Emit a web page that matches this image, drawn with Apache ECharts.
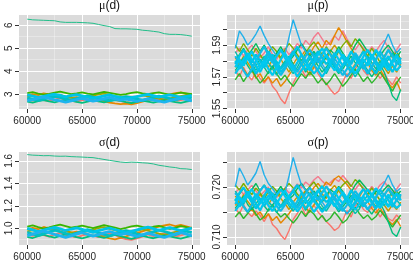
<!DOCTYPE html>
<html><head><meta charset="utf-8">
<script src="https://cdn.jsdelivr.net/npm/echarts@6/dist/echarts.min.js"></script>
<style>html,body{margin:0;padding:0;background:#fff}#c{width:413px;height:267px}</style>
</head><body><div id="c"></div>
<script>
// ---------- axes / ticks ----------
const iterD = [60000,60500,61000,61500,62000,62500,63000,63500,64000,64500,65000,65500,66000,66500,67000,67500,68000,68500,69000,69500,70000,70500,71000,71500,72000,72500,73000,73500,74000,74500,75000];
const iterP = [60000,60375,60750,61125,61500,61875,62250,62625,63000,63375,63750,64125,64500,64875,65250,65625,66000,66375,66750,67125,67500,67875,68250,68625,69000,69375,69750,70125,70500,70875,71250,71625,72000,72375,72750,73125,73500,73875,74250,74625,75000];
const xTicks = [60000,65000,70000,75000];
const xMinor = [62500,67500,72500];
const muDTicks = [3,4,5,6];
const muDMinor = [2.5,3.5,4.5,5.5];
const muPTicks = [1.55,1.56,1.57,1.58,1.59,1.60];
const muPLabels = [1.55,1.57,1.59];
const muPMinor = [1.555,1.565,1.575,1.585,1.595,1.605];
const sdTicks = [1.0,1.2,1.4,1.6];
const sdMinor = [0.9,1.1,1.3,1.5];
const spTicks = [0.710,0.715,0.720,0.725];
const spLabels = [0.710,0.720];
const spMinor = [0.7125,0.7175,0.7225];

// ---------- μ(d) ----------
const muDOutlier = [6.26,6.23,6.22,6.21,6.20,6.19,6.14,6.12,6.12,6.12,6.11,6.10,6.08,6.03,5.98,5.94,5.85,5.84,5.84,5.83,5.82,5.78,5.76,5.73,5.70,5.63,5.60,5.60,5.59,5.56,5.52];
const muDChains = [
 [2.78,2.72,2.80,2.75,2.70,2.77,2.83,2.76,2.71,2.68,2.74,2.79,2.73,2.69,2.75,2.81,2.76,2.70,2.66,2.63,2.68,2.74,2.79,2.73,2.77,2.82,2.76,2.71,2.75,2.80,2.74],
 [2.95,3.01,2.96,3.04,2.99,2.93,2.97,2.90,2.84,2.88,2.82,2.77,2.72,2.76,2.70,2.64,2.60,2.57,2.59,2.56,2.62,2.68,2.74,2.81,2.87,2.93,2.99,3.05,3.08,3.03,2.98],
 [2.88,2.93,2.87,2.82,2.86,2.91,2.96,2.90,2.85,2.80,2.84,2.89,2.94,2.99,3.03,2.97,2.92,2.86,2.81,2.85,2.90,2.95,2.91,2.86,2.81,2.77,2.82,2.87,2.92,2.97,3.02],
 [3.05,3.09,3.03,2.98,3.02,3.07,3.11,3.06,3.01,3.04,3.08,3.03,2.99,3.05,3.10,3.06,3.02,2.97,3.01,3.06,3.09,3.04,3.00,3.05,3.08,3.03,2.98,3.02,3.07,3.04,3.00],
 [2.68,2.64,2.70,2.75,2.69,2.65,2.71,2.76,2.72,2.67,2.63,2.68,2.73,2.69,2.65,2.70,2.75,2.71,2.66,2.62,2.67,2.72,2.68,2.64,2.69,2.74,2.70,2.66,2.63,2.68,2.72],
 [2.84,2.78,2.73,2.79,2.85,2.91,2.86,2.80,2.75,2.81,2.87,2.93,2.88,2.82,2.77,2.72,2.78,2.84,2.90,2.85,2.79,2.74,2.80,2.86,2.92,2.87,2.81,2.76,2.82,2.88,2.83],
 [2.97,2.92,2.86,2.91,2.96,3.00,2.95,2.89,2.94,2.98,2.93,2.87,2.82,2.88,2.93,2.97,2.91,2.86,2.80,2.85,2.90,2.95,2.99,2.94,2.88,2.93,2.97,2.92,2.87,2.91,2.95],
 [2.72,2.77,2.83,2.88,2.82,2.76,2.71,2.66,2.71,2.77,2.82,2.76,2.70,2.75,2.81,2.86,2.80,2.75,2.79,2.74,2.69,2.74,2.80,2.75,2.70,2.66,2.72,2.78,2.83,2.77,2.71]
];

// ---------- σ(d) ----------
const sdOutlier = [1.655,1.650,1.648,1.645,1.646,1.642,1.640,1.641,1.637,1.635,1.633,1.630,1.628,1.620,1.612,1.604,1.596,1.589,1.585,1.588,1.586,1.582,1.579,1.572,1.560,1.553,1.545,1.540,1.530,1.528,1.522];
const sdChains = [
 [0.947,0.932,0.952,0.940,0.927,0.945,0.960,0.942,0.929,0.921,0.936,0.949,0.933,0.923,0.939,0.954,0.941,0.918,0.905,0.898,0.911,0.927,0.945,0.931,0.941,0.955,0.939,0.926,0.937,0.950,0.935],
 [0.990,1.005,0.992,1.012,0.998,0.983,0.994,0.976,0.961,0.971,0.956,0.943,0.930,0.940,0.925,0.910,0.902,0.915,0.929,0.944,0.958,0.973,0.988,1.002,1.015,1.027,1.034,1.020,1.031,1.018,1.005],
 [0.972,0.985,0.969,0.956,0.966,0.979,0.992,0.977,0.964,0.951,0.962,0.975,0.988,1.001,1.011,0.996,0.983,0.967,0.954,0.965,0.978,0.991,0.980,0.966,0.953,0.943,0.955,0.968,0.981,0.994,1.006],
 [1.015,1.026,1.010,0.997,1.008,1.021,1.032,1.019,1.006,1.014,1.025,1.012,1.001,1.016,1.029,1.018,1.007,0.994,1.004,1.017,1.025,1.012,1.001,1.014,1.022,1.009,0.996,1.006,1.019,1.011,1.000],
 [0.925,0.914,0.930,0.943,0.928,0.917,0.933,0.946,0.935,0.922,0.911,0.924,0.937,0.926,0.915,0.928,0.941,0.931,0.918,0.907,0.920,0.933,0.922,0.912,0.925,0.938,0.928,0.917,0.909,0.922,0.933],
 [0.965,0.950,0.937,0.952,0.968,0.983,0.970,0.955,0.942,0.957,0.973,0.988,0.975,0.960,0.947,0.934,0.949,0.965,0.980,0.967,0.952,0.939,0.954,0.970,0.985,0.972,0.957,0.944,0.959,0.975,0.962],
 [1.000,0.987,0.972,0.985,0.998,1.009,0.996,0.981,0.994,1.005,0.992,0.977,0.964,0.979,0.992,1.003,0.988,0.975,0.960,0.973,0.986,0.999,1.010,0.997,0.982,0.995,1.006,0.993,0.980,0.991,1.002],
 [0.935,0.948,0.963,0.976,0.961,0.946,0.933,0.920,0.933,0.948,0.961,0.946,0.931,0.944,0.959,0.972,0.957,0.944,0.955,0.942,0.929,0.942,0.957,0.944,0.931,0.920,0.935,0.950,0.963,0.948,0.933]
];

// ---------- μ(p) ----------
const muPChains = [
 [1.574,1.570,1.576,1.571,1.568,1.573,1.569,1.566,1.570,1.564,1.561,1.556,1.553,1.560,1.566,1.571,1.575,1.570,1.573,1.577,1.572,1.568,1.566,1.562,1.559,1.561,1.567,1.572,1.569,1.575,1.579,1.574,1.571,1.576,1.573,1.569,1.572,1.568,1.565,1.570,1.566],
 [1.585,1.588,1.583,1.587,1.590,1.586,1.582,1.585,1.589,1.584,1.581,1.586,1.588,1.584,1.587,1.591,1.588,1.593,1.590,1.595,1.598,1.594,1.590,1.592,1.596,1.593,1.599,1.594,1.590,1.587,1.591,1.588,1.585,1.589,1.586,1.590,1.593,1.588,1.584,1.587,1.591],
 [1.576,1.580,1.575,1.571,1.574,1.569,1.572,1.567,1.570,1.566,1.569,1.564,1.567,1.571,1.575,1.579,1.583,1.587,1.584,1.589,1.592,1.588,1.593,1.590,1.596,1.601,1.597,1.592,1.588,1.584,1.580,1.576,1.579,1.574,1.571,1.575,1.570,1.566,1.563,1.567,1.561],
 [1.582,1.578,1.583,1.579,1.575,1.580,1.584,1.580,1.576,1.581,1.585,1.581,1.577,1.573,1.578,1.582,1.579,1.575,1.571,1.576,1.580,1.584,1.581,1.586,1.590,1.586,1.582,1.578,1.574,1.578,1.582,1.587,1.583,1.579,1.575,1.580,1.576,1.572,1.577,1.573,1.578],
 [1.590,1.586,1.591,1.587,1.583,1.588,1.584,1.580,1.585,1.589,1.586,1.582,1.587,1.591,1.588,1.584,1.580,1.585,1.589,1.592,1.588,1.584,1.589,1.585,1.581,1.586,1.590,1.593,1.589,1.594,1.591,1.587,1.583,1.588,1.584,1.579,1.583,1.587,1.582,1.586,1.581],
 [1.568,1.572,1.567,1.571,1.575,1.570,1.566,1.569,1.573,1.577,1.572,1.568,1.571,1.567,1.564,1.568,1.572,1.569,1.573,1.570,1.566,1.569,1.565,1.568,1.572,1.568,1.564,1.567,1.571,1.575,1.571,1.567,1.570,1.566,1.569,1.573,1.569,1.565,1.561,1.566,1.570],
 [1.579,1.584,1.588,1.583,1.587,1.591,1.586,1.590,1.585,1.581,1.585,1.589,1.584,1.580,1.583,1.587,1.591,1.587,1.583,1.586,1.582,1.578,1.583,1.587,1.584,1.589,1.585,1.581,1.585,1.590,1.594,1.590,1.586,1.582,1.586,1.583,1.587,1.590,1.586,1.582,1.586],
 [1.574,1.578,1.582,1.577,1.573,1.577,1.581,1.576,1.572,1.576,1.580,1.575,1.579,1.583,1.578,1.574,1.578,1.573,1.577,1.581,1.577,1.573,1.576,1.580,1.576,1.572,1.575,1.579,1.583,1.579,1.575,1.578,1.574,1.570,1.574,1.578,1.573,1.566,1.558,1.555,1.562],
 [1.586,1.581,1.577,1.582,1.578,1.574,1.579,1.583,1.579,1.575,1.571,1.576,1.580,1.576,1.572,1.576,1.581,1.577,1.581,1.585,1.580,1.576,1.572,1.577,1.581,1.578,1.574,1.570,1.574,1.570,1.574,1.579,1.583,1.579,1.575,1.580,1.576,1.581,1.585,1.580,1.576],
 [1.588,1.599,1.595,1.590,1.593,1.597,1.602,1.596,1.591,1.587,1.583,1.587,1.584,1.595,1.606,1.598,1.590,1.586,1.582,1.578,1.582,1.578,1.574,1.578,1.582,1.578,1.574,1.570,1.573,1.577,1.581,1.577,1.573,1.577,1.581,1.586,1.591,1.597,1.590,1.585,1.588],
 [1.580,1.575,1.579,1.583,1.579,1.584,1.580,1.576,1.580,1.584,1.579,1.575,1.578,1.582,1.586,1.582,1.578,1.574,1.578,1.582,1.586,1.582,1.578,1.581,1.577,1.573,1.577,1.582,1.578,1.583,1.579,1.575,1.579,1.584,1.580,1.576,1.580,1.576,1.580,1.584,1.579],
 [1.572,1.576,1.581,1.585,1.581,1.577,1.573,1.578,1.583,1.579,1.583,1.587,1.582,1.578,1.574,1.579,1.584,1.580,1.576,1.572,1.575,1.580,1.584,1.580,1.585,1.581,1.577,1.581,1.586,1.582,1.578,1.583,1.587,1.583,1.578,1.574,1.579,1.583,1.578,1.574,1.577],
 [1.578,1.583,1.587,1.582,1.577,1.572,1.576,1.581,1.586,1.582,1.577,1.573,1.576,1.580,1.585,1.589,1.584,1.579,1.583,1.578,1.574,1.570,1.574,1.579,1.583,1.587,1.582,1.577,1.573,1.577,1.582,1.586,1.581,1.576,1.572,1.577,1.582,1.578,1.573,1.578,1.582],
 [1.583,1.579,1.574,1.570,1.575,1.580,1.585,1.589,1.584,1.580,1.575,1.571,1.575,1.580,1.577,1.573,1.578,1.583,1.587,1.583,1.579,1.584,1.588,1.584,1.579,1.575,1.571,1.575,1.580,1.585,1.581,1.577,1.572,1.576,1.581,1.586,1.582,1.587,1.583,1.578,1.582],
 [1.576,1.581,1.577,1.582,1.586,1.581,1.576,1.580,1.575,1.571,1.576,1.581,1.585,1.580,1.575,1.570,1.574,1.578,1.574,1.579,1.584,1.588,1.583,1.578,1.574,1.579,1.584,1.580,1.576,1.572,1.576,1.581,1.577,1.582,1.587,1.583,1.578,1.574,1.579,1.583,1.578]
];

// ---------- σ(p) ----------
const spChains = [
 [0.7158,0.7146,0.7165,0.7149,0.7141,0.7152,0.7143,0.7131,0.7147,0.7125,0.7117,0.7104,0.7095,0.7113,0.7135,0.7147,0.7162,0.7144,0.7156,0.7164,0.7150,0.7141,0.7131,0.7123,0.7113,0.7119,0.7134,0.7153,0.7140,0.7161,0.7170,0.7155,0.7149,0.7161,0.7156,0.7140,0.7152,0.7137,0.7132,0.7144,0.7135],
 [0.7189,0.7197,0.7185,0.7195,0.7203,0.7192,0.7182,0.7191,0.7200,0.7186,0.7179,0.7192,0.7198,0.7188,0.7195,0.7206,0.7198,0.7210,0.7203,0.7214,0.7221,0.7212,0.7204,0.7209,0.7217,0.7211,0.7223,0.7213,0.7203,0.7195,0.7206,0.7198,0.7190,0.7201,0.7192,0.7204,0.7211,0.7199,0.7188,0.7196,0.7207],
 [0.7163,0.7174,0.7161,0.7149,0.7156,0.7143,0.7150,0.7137,0.7146,0.7133,0.7141,0.7128,0.7137,0.7147,0.7159,0.7171,0.7182,0.7193,0.7186,0.7199,0.7207,0.7197,0.7210,0.7203,0.7216,0.7222,0.7214,0.7205,0.7194,0.7185,0.7174,0.7163,0.7171,0.7157,0.7148,0.7159,0.7144,0.7133,0.7125,0.7135,0.7121],
 [0.7182,0.7168,0.7185,0.7171,0.7161,0.7176,0.7186,0.7174,0.7164,0.7179,0.7189,0.7177,0.7167,0.7155,0.7170,0.7180,0.7173,0.7159,0.7149,0.7164,0.7176,0.7186,0.7177,0.7194,0.7203,0.7192,0.7182,0.7168,0.7158,0.7170,0.7180,0.7195,0.7185,0.7171,0.7161,0.7174,0.7164,0.7152,0.7165,0.7155,0.7170],
 [0.7204,0.7194,0.7207,0.7195,0.7185,0.7198,0.7188,0.7176,0.7191,0.7201,0.7192,0.7182,0.7197,0.7207,0.7198,0.7186,0.7176,0.7191,0.7201,0.7210,0.7198,0.7188,0.7201,0.7189,0.7179,0.7194,0.7204,0.7212,0.7201,0.7215,0.7207,0.7195,0.7185,0.7198,0.7186,0.7173,0.7185,0.7195,0.7182,0.7192,0.7179],
 [0.7140,0.7150,0.7137,0.7147,0.7159,0.7146,0.7134,0.7141,0.7155,0.7165,0.7150,0.7140,0.7147,0.7137,0.7128,0.7138,0.7152,0.7141,0.7153,0.7146,0.7134,0.7143,0.7131,0.7138,0.7150,0.7140,0.7128,0.7135,0.7149,0.7159,0.7147,0.7137,0.7144,0.7134,0.7141,0.7153,0.7143,0.7131,0.7120,0.7132,0.7144],
 [0.7173,0.7186,0.7198,0.7185,0.7195,0.7207,0.7192,0.7204,0.7191,0.7179,0.7189,0.7201,0.7188,0.7176,0.7183,0.7197,0.7207,0.7195,0.7185,0.7192,0.7182,0.7170,0.7183,0.7195,0.7188,0.7201,0.7191,0.7177,0.7189,0.7204,0.7214,0.7204,0.7194,0.7180,0.7192,0.7185,0.7195,0.7204,0.7194,0.7182,0.7192],
 [0.7158,0.7168,0.7182,0.7165,0.7155,0.7167,0.7177,0.7162,0.7152,0.7164,0.7174,0.7161,0.7171,0.7183,0.7168,0.7158,0.7170,0.7153,0.7167,0.7177,0.7165,0.7155,0.7162,0.7176,0.7164,0.7150,0.7161,0.7171,0.7183,0.7173,0.7159,0.7170,0.7156,0.7146,0.7158,0.7168,0.7152,0.7130,0.7108,0.7101,0.7120],
 [0.7192,0.7179,0.7165,0.7182,0.7168,0.7158,0.7171,0.7185,0.7171,0.7161,0.7149,0.7162,0.7176,0.7162,0.7152,0.7164,0.7177,0.7167,0.7177,0.7189,0.7176,0.7162,0.7152,0.7165,0.7179,0.7168,0.7158,0.7146,0.7158,0.7147,0.7156,0.7173,0.7183,0.7173,0.7159,0.7176,0.7162,0.7179,0.7189,0.7174,0.7164],
 [0.7200,0.7238,0.7222,0.7204,0.7215,0.7228,0.7251,0.7224,0.7207,0.7197,0.7185,0.7195,0.7188,0.7222,0.7259,0.7230,0.7204,0.7194,0.7182,0.7170,0.7180,0.7170,0.7158,0.7168,0.7182,0.7168,0.7158,0.7147,0.7155,0.7165,0.7179,0.7165,0.7155,0.7167,0.7177,0.7194,0.7207,0.7224,0.7204,0.7191,0.7198],
 [0.7176,0.7161,0.7171,0.7185,0.7171,0.7186,0.7176,0.7162,0.7174,0.7188,0.7171,0.7161,0.7168,0.7182,0.7192,0.7180,0.7170,0.7156,0.7170,0.7180,0.7194,0.7180,0.7170,0.7177,0.7165,0.7155,0.7167,0.7180,0.7168,0.7185,0.7171,0.7161,0.7173,0.7186,0.7174,0.7164,0.7174,0.7162,0.7176,0.7186,0.7173],
 [0.7152,0.7164,0.7177,0.7191,0.7177,0.7167,0.7153,0.7170,0.7183,0.7173,0.7183,0.7195,0.7182,0.7168,0.7158,0.7171,0.7188,0.7174,0.7164,0.7150,0.7161,0.7174,0.7188,0.7174,0.7191,0.7177,0.7167,0.7177,0.7194,0.7180,0.7170,0.7183,0.7195,0.7185,0.7168,0.7158,0.7171,0.7185,0.7168,0.7158,0.7165],
 [0.7172,0.7188,0.7199,0.7184,0.7170,0.7157,0.7168,0.7183,0.7197,0.7185,0.7171,0.7160,0.7167,0.7179,0.7193,0.7204,0.7190,0.7176,0.7188,0.7173,0.7162,0.7150,0.7161,0.7175,0.7187,0.7199,0.7185,0.7170,0.7159,0.7170,0.7185,0.7196,0.7182,0.7168,0.7157,0.7171,0.7186,0.7174,0.7160,0.7174,0.7186],
 [0.7188,0.7175,0.7161,0.7150,0.7164,0.7178,0.7193,0.7203,0.7189,0.7176,0.7162,0.7152,0.7164,0.7178,0.7170,0.7158,0.7173,0.7187,0.7199,0.7186,0.7174,0.7189,0.7201,0.7190,0.7175,0.7163,0.7152,0.7164,0.7177,0.7192,0.7180,0.7169,0.7155,0.7166,0.7180,0.7195,0.7183,0.7197,0.7186,0.7172,0.7184],
 [0.7166,0.7180,0.7169,0.7184,0.7196,0.7181,0.7167,0.7178,0.7163,0.7152,0.7166,0.7181,0.7193,0.7178,0.7164,0.7151,0.7162,0.7175,0.7163,0.7177,0.7191,0.7202,0.7187,0.7173,0.7161,0.7176,0.7190,0.7178,0.7166,0.7154,0.7166,0.7181,0.7169,0.7183,0.7198,0.7186,0.7172,0.7160,0.7175,0.7188,0.7174]
];

// ---------- colours ----------
const colorsD = ['#F8766D','#E58700','#A3A500','#39B600','#00BF7D','#00BFC4','#00C3E8','#1DB4EE'];
const outlierColor = '#22BE8A';
const colorsP = ['#F8766D','#F37B8E','#E58700','#C99800','#7CAE00','#2EB62C','#00BA5A','#00BF7D','#00C0B0','#22B0EA','#00C2E2','#00C7EE','#00C4EA','#10BCE6','#00C9F0'];

// ---------- layout ----------
const panels = [
  {title:'{g|μ}{s|(d)}', rect:{left:19, top:15, width:181, height:94}, y:[2.36,6.44], ticks:muDTicks, labels:muDTicks, minor:muDMinor, fmt:v=>String(Math.round(v))},
  {title:'{g|μ}{s|(p)}', rect:{left:227, top:15, width:182, height:94}, y:[1.5497,1.6090], ticks:muPTicks, labels:muPLabels, minor:muPMinor, fmt:v=>v.toFixed(2)},
  {title:'{g|σ}{s|(d)}', rect:{left:19, top:152, width:181, height:93}, y:[0.852,1.678], ticks:sdTicks, labels:sdTicks, minor:sdMinor, fmt:v=>v.toFixed(1)},
  {title:'{g|σ}{s|(p)}', rect:{left:227, top:152, width:182, height:93}, y:[0.7084,0.7270], ticks:spTicks, labels:spLabels, minor:spMinor, fmt:v=>v.toFixed(3)}
];

const grids=[], xAxes=[], yAxes=[], titles=[], series=[];
const labelStyle = {fontSize:10, color:'#262626', fontFamily:'Liberation Sans, Arial, sans-serif'};
panels.forEach((p,g)=>{
  grids.push(Object.assign({show:true, backgroundColor:'#DBDBDB', borderWidth:0, containLabel:false, outerBoundsMode:'none'}, p.rect));
  xAxes.push({gridIndex:g, type:'value', min:59250, max:75750,
    axisLine:{show:false},
    axisTick:{show:true, length:4, lineStyle:{color:'#333', width:1}, customValues:xTicks},
    axisLabel:Object.assign({customValues:xTicks, margin:7, formatter:v=>String(v), hideOverlap:false, showMinLabel:true, showMaxLabel:true}, labelStyle),
    splitLine:{show:true, lineStyle:{color:'#FFFFFF', width:1}}});
  xAxes.push({gridIndex:g, type:'value', min:59250, max:75750, position:'bottom',
    axisLine:{show:false}, axisTick:{show:false, customValues:xMinor}, axisLabel:{show:false},
    splitLine:{show:true, lineStyle:{color:'rgba(255,255,255,0.55)', width:0.6}}});
  yAxes.push({gridIndex:g, type:'value', min:p.y[0], max:p.y[1],
    axisLine:{show:false},
    axisTick:{show:true, length:4, lineStyle:{color:'#333', width:1}, customValues:p.ticks},
    axisLabel:Object.assign({customValues:p.labels, rotate:90, margin:5, formatter:p.fmt, hideOverlap:false}, labelStyle),
    splitLine:{show:true, lineStyle:{color:'#FFFFFF', width:1}}});
  yAxes.push({gridIndex:g, type:'value', min:p.y[0], max:p.y[1], position:'left',
    axisLine:{show:false}, axisTick:{show:false, customValues:p.minor}, axisLabel:{show:false},
    splitLine:{show:true, lineStyle:{color:'rgba(255,255,255,0.55)', width:0.6}}});
  titles.push({text:p.title, left:p.rect.left + p.rect.width/2, textAlign:'center',
    top:(g<2?0:137), padding:0,
    textStyle:{fontSize:12, fontWeight:'normal', color:'#111',
      rich:{g:{fontSize:12, fontFamily:'Liberation Serif, serif', color:'#111'},
            s:{fontSize:12, fontFamily:'Liberation Sans, Arial, sans-serif', color:'#111'}}}});
});

function addLine(g, xs, ys, color, w){
  series.push({type:'line', xAxisIndex:2*g, yAxisIndex:2*g,
    data: xs.map((x,i)=>[x, ys[i]]),
    showSymbol:false, symbol:'none', silent:true, animation:false,
    lineStyle:{width:w, color:color}, itemStyle:{color:color}});
}
// μ(d)
muDChains.forEach((c,i)=>{ if(i===5) addLine(0, iterD, muDOutlier, outlierColor, 1); addLine(0, iterD, c, colorsD[i], i>=5?2.8:1.8); });
// μ(p)
muPChains.forEach((c,i)=> addLine(1, iterP, c, colorsP[i], i>=10?2.2:1.4));
// σ(d)
sdChains.forEach((c,i)=>{ if(i===5) addLine(2, iterD, sdOutlier, outlierColor, 1); addLine(2, iterD, c, colorsD[i], i>=5?2.8:1.8); });
// σ(p)
spChains.forEach((c,i)=> addLine(3, iterP, c, colorsP[i], i>=10?2.2:1.4));

const chart = echarts.init(document.getElementById('c'), null, {renderer:'canvas'});
chart.setOption({
  animation:false,
  backgroundColor:'#FFFFFF',
  title: titles,
  grid: grids,
  xAxis: xAxes,
  yAxis: yAxes,
  series: series
});
</script>
</body></html>
